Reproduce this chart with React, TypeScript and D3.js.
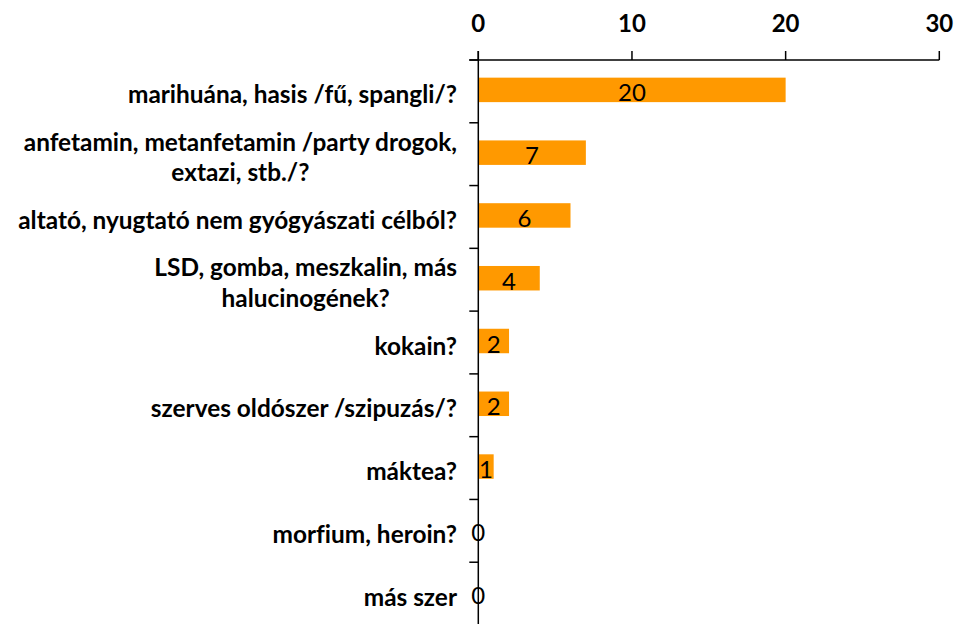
import React, { useEffect, useRef } from "react";
import * as d3 from "d3";

const categories: string[][] = [
  ["marihuána, hasis /fű, spangli/?"],
  ["anfetamin, metanfetamin /party drogok,", "extazi, stb./?"],
  ["altató, nyugtató nem gyógyászati célból?"],
  ["LSD, gomba, meszkalin, más", "halucinogének?"],
  ["kokain?"],
  ["szerves oldószer /szipuzás/?"],
  ["máktea?"],
  ["morfium, heroin?"],
  ["más szer"],
];
const values: number[] = [20, 7, 6, 4, 2, 2, 1, 0, 0];
const ticks: number[] = [0, 10, 20, 30];

const W = 959;
const H = 624;
const FONT = "Lato, 'Open Sans', sans-serif";

export default function App() {
  const ref = useRef<SVGSVGElement>(null);
  useEffect(() => {
    const svg = d3.select(ref.current);
    svg.selectAll("*").remove();
    svg.style("font-variant-ligatures", "none");
    const keys = categories.map((c) => c.join(" "));
    const x = d3.scaleLinear().domain([0, 30]).range([478.3, 939.3]);
    const y = d3.scaleBand<string>().domain(keys).range([60, 625]).paddingInner(0.61).paddingOuter(0.305);
    const step = y.step();

    // bars
    svg.append("g")
      .selectAll("rect")
      .data(values)
      .join("rect")
      .attr("x", x(0))
      .attr("y", (_, i) => (y(keys[i]) as number) - 1.5)
      .attr("width", (d) => x(d) - x(0))
      .attr("height", y.bandwidth())
      .attr("fill", "#ff9900");

    // value labels
    svg.append("g")
      .selectAll("text")
      .data(values)
      .join("text")
      .attr("x", (d) => x(d / 2))
      .attr("y", (_, i) => (y(keys[i]) as number) + y.bandwidth() / 2 + 10)
      .attr("text-anchor", "middle")
      .attr("font-family", FONT)
      .attr("font-size", 24)
      .attr("fill", "#000")
      .text((d) => String(d));

    // top axis
    const ax = svg.append("g");
    ax.append("line")
      .attr("x1", x(0) - 9).attr("x2", x(30))
      .attr("y1", 60).attr("y2", 60)
      .attr("stroke", "#000").attr("stroke-width", 1.5);
    ax.selectAll("line.t")
      .data(ticks)
      .join("line")
      .attr("class", "t")
      .attr("x1", (d) => x(d)).attr("x2", (d) => x(d))
      .attr("y1", 51).attr("y2", 60)
      .attr("stroke", "#000").attr("stroke-width", 1.5);
    ax.selectAll("text")
      .data(ticks)
      .join("text")
      .attr("x", (d) => x(d))
      .attr("y", 31.5)
      .attr("text-anchor", "middle")
      .attr("font-family", FONT)
      .attr("font-weight", "bold")
      .attr("font-size", 24)
      .text((d) => String(d));

    // left axis
    const ay = svg.append("g");
    ay.append("line")
      .attr("x1", x(0)).attr("x2", x(0))
      .attr("y1", 51).attr("y2", 625)
      .attr("stroke", "#000").attr("stroke-width", 1.5);
    ay.selectAll("line.c")
      .data(d3.range(categories.length))
      .join("line")
      .attr("class", "c")
      .attr("x1", x(0) - 9).attr("x2", x(0))
      .attr("y1", (i) => 60 + i * step).attr("y2", (i) => 60 + i * step)
      .attr("stroke", "#000").attr("stroke-width", 1.5);

    // category labels
    const right = 457;
    const lh = 30.6;
    categories.forEach((lines, i) => {
      const cy = 60 + (i + 0.5) * step;
      const g = svg.append("g");
      const texts = lines.map((ln, j) =>
        g.append("text")
          .attr("font-family", FONT)
          .attr("font-weight", "bold")
          .attr("font-size", 24.4)
          .attr("text-anchor", "middle")
          .attr("y", cy + 12 + (j - (lines.length - 1) / 2) * lh)
          .text(ln)
      );
      const maxW = Math.max(...texts.map((t) => (t.node() as SVGTextElement).getComputedTextLength()));
      texts.forEach((t) => t.attr("x", right - maxW / 2));
    });
  }, []);
  return (
    <svg
      ref={ref}
      width={W}
      height={H}
      style={{ position: "absolute", left: 0, top: 0, background: "#fff" }}
    />
  );
}
